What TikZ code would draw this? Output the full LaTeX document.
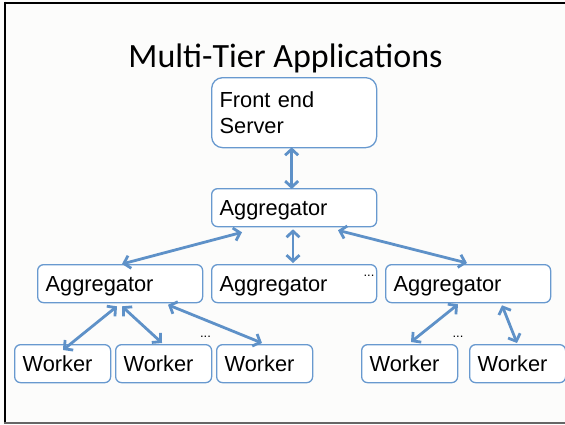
\documentclass[tikz,border=0pt]{standalone}
\usepackage{fontspec}
\setmainfont{Liberation Sans}
\newfontfamily\titlefont{Carlito}
\usetikzlibrary{arrows.meta,calc}
\definecolor{boxblue}{RGB}{104,153,207}
\definecolor{arrowblue}{RGB}{94,145,200}
\definecolor{paper}{RGB}{252,252,251}

\begin{document}
\begin{tikzpicture}[x=1pt,y=-1pt,
  box/.style={draw=boxblue, line width=1.3pt, rounded corners=6pt, fill=white,
    inner xsep=8pt, inner ysep=0pt, align=left, anchor=north west,
    font=\fontsize{21.8}{26.3}\selectfont},
  oneline/.style={text height=15.6pt, text depth=0pt, minimum height=38pt},
  aggbox/.style={box, oneline, text width=149pt},
  workbox/.style={box, oneline, text width=80pt},
  conn/.style={draw=arrowblue, line width=2.8pt,
    {Straight Barb[length=6pt,width=13pt]}-{Straight Barb[length=6pt,width=13pt]}},
  dots/.style={font=\fontsize{13}{15}\selectfont, anchor=base, inner sep=0pt}]

  % page and frame
  \useasboundingbox (0,0) rectangle (565,424);
  \fill[paper] (0,0) rectangle (565,424);
  \draw[black, line width=2pt] (4,2.5) -- (565,2.5);
  \draw[black, line width=2.5pt] (5.2,1.5) -- (5.2,424);
  \draw[black!60, line width=1.5pt] (4,423.2) -- (565,423.2);

  % title
  \node[font=\titlefont\fontsize{34}{40}\selectfont, anchor=base, inner sep=0pt]
    (title) at (285.5,67) {Multi-Tier Applications};

  % tiers
  \node[box, rounded corners=11pt, text width=149pt, minimum height=70pt] (fe) at (211,77) {Front end\\Server};
  \node[aggbox] (agg0) at (211,188) {Aggregator};
  \node[aggbox] (aggL) at (37,264) {Aggregator};
  \node[aggbox] (aggM) at (211,264) {Aggregator};
  \node[aggbox] (aggR) at (385,264) {Aggregator};
  \node[workbox] (w1) at (14,344) {Worker};
  \node[workbox] (w2) at (115,344) {Worker};
  \node[workbox] (w3) at (216,344) {Worker};
  \node[workbox] (w4) at (361,344) {Worker};
  \node[workbox] (w5) at (469,344) {Worker};

  % ellipses marking omitted nodes
  \node[dots] (d1) at (369,276) {...};
  \node[dots] (d2) at (205.5,337) {...};
  \node[dots] (d3) at (458,337) {...};

  % connectors
  \draw[conn] ([xshift=-2.5pt,yshift=1pt]fe.south) -- ([xshift=-2.5pt,yshift=-1pt]agg0.north);
  \draw[conn] ([xshift=31pt,yshift=-5pt]agg0.south west) -- ([xshift=85pt]aggL.north west);
  \draw[conn] ([xshift=82pt,yshift=-2pt]agg0.south west) -- ([xshift=82pt,yshift=1pt]aggM.north west);
  \draw[conn] ([xshift=127pt,yshift=-3pt]agg0.south west) -- ([xshift=82pt,yshift=1pt]aggR.north west);
  \draw[conn] ([xshift=80pt,yshift=-3pt]aggL.south west) -- ([xshift=49pt,yshift=-6pt]w1.north west);
  \draw[conn] ([xshift=85pt,yshift=-3pt]aggL.south west) -- ([xshift=47pt,yshift=1pt]w2.north west);
  \draw[conn] ([xshift=131pt,yshift=-1.5pt]aggL.south west) -- ([xshift=46pt,yshift=1pt]w3.north west);
  \draw[conn] ([xshift=73pt,yshift=-1pt]aggR.south west) -- ([xshift=50pt,yshift=2pt]w4.north west);
  \draw[conn] ([xshift=117pt,yshift=-2pt]aggR.south west) -- ([xshift=48pt,yshift=1pt]w5.north west);
\end{tikzpicture}
\end{document}
